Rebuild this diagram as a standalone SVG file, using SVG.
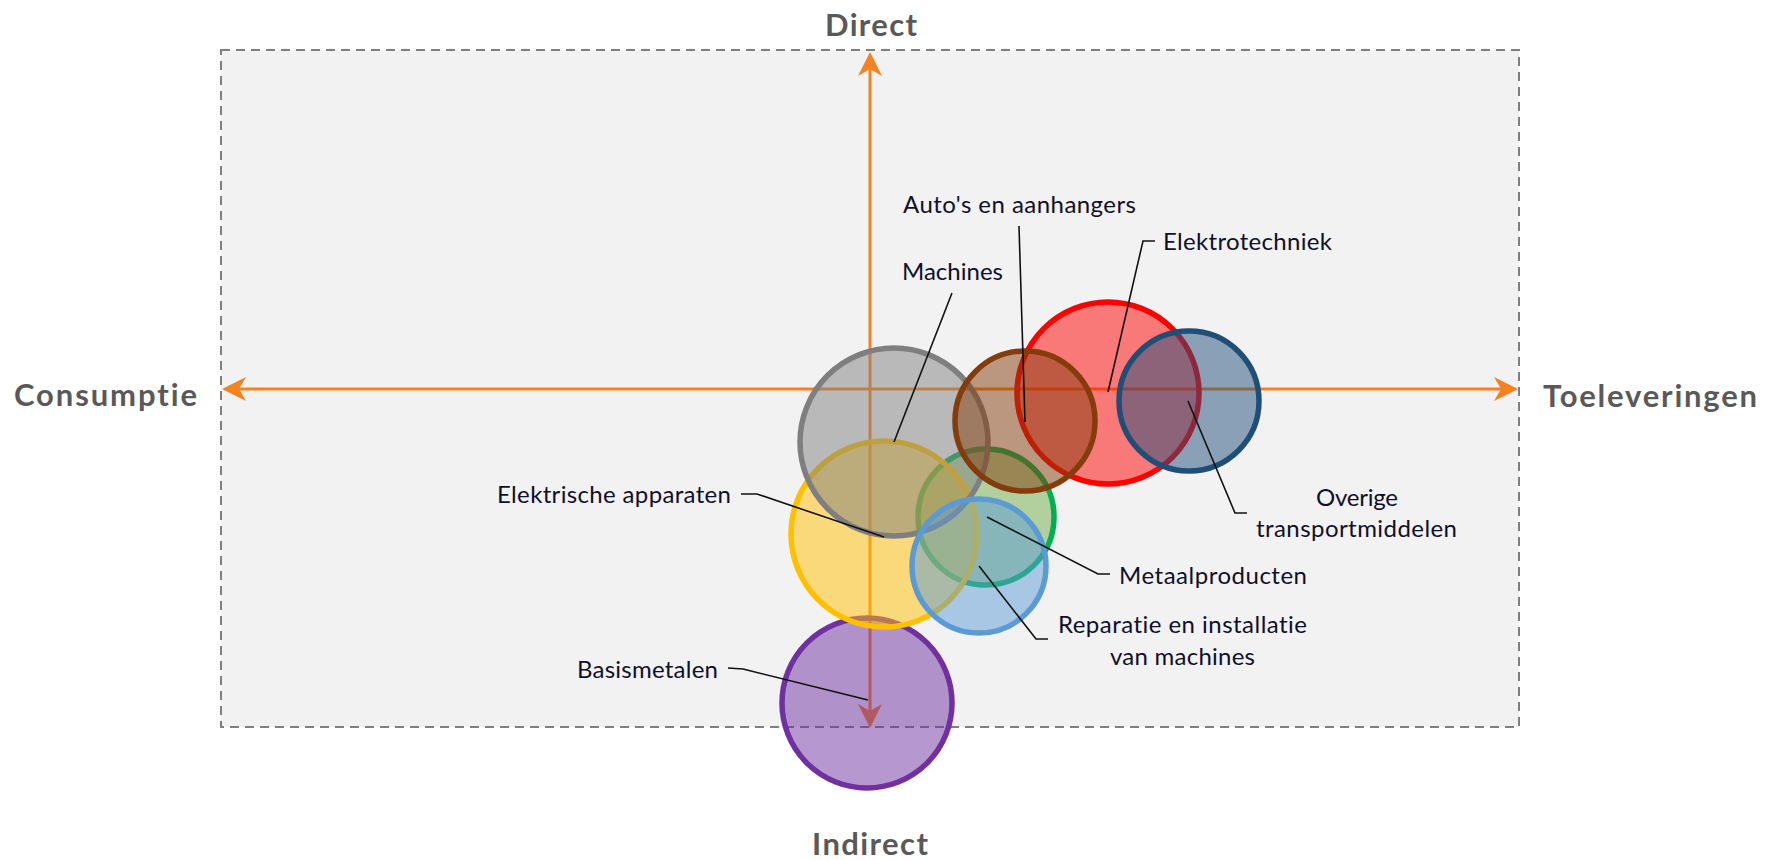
<svg xmlns="http://www.w3.org/2000/svg" width="1778" height="860" viewBox="0 0 1778 860">
<style>
text{font-variant-ligatures:none}
.title{font-family:Lato,"Open Sans","Liberation Sans",sans-serif;font-weight:bold;font-size:31px;fill:#595959}
.lbl{font-family:Lato,"Open Sans","Liberation Sans",sans-serif;font-size:24px;fill:#10102a}
.c{stroke-width:5.5;fill-opacity:0.5}
.lead{fill:none;stroke:#111;stroke-width:1.6}
.axis{stroke:#f58220;stroke-width:3;fill:none}
</style>
<rect width="1778" height="860" fill="#ffffff"/>
<rect id="frame" x="221" y="50" width="1298" height="677" fill="#f2f2f2" stroke="#7f7f7f" stroke-width="2" stroke-dasharray="9,6"/>
<g id="axes">
<line class="axis" x1="232" y1="389" x2="1508" y2="389"/>
<line class="axis" x1="870" y1="62" x2="870" y2="718"/>
<path d="M222,389 L246,377 L239,389 L246,401 Z" fill="#f58220"/>
<path d="M1518,389 L1494,377 L1501,389 L1494,401 Z" fill="#f58220"/>
<path d="M870,52 L858,76 L870,69 L882,76 Z" fill="#f58220"/>
<path d="M870,728 L858,704 L870,711 L882,704 Z" fill="#f58220"/>
</g>
<g id="titles">
<text class="title" x="825" y="36" textLength="92">Direct</text>
<text class="title" x="14" y="406" textLength="183">Consumptie</text>
<text class="title" x="1543" y="407" textLength="214">Toeleveringen</text>
<text class="title" x="812" y="855" textLength="116">Indirect</text>
</g>
<g id="basismetalen">
<circle class="c" cx="867" cy="703" r="85" fill="#7030a0" stroke="#7030a0"/>
<text class="lbl" x="577" y="678" textLength="141">Basismetalen</text>
</g>
<g id="metaalproducten">
<circle class="c" cx="986" cy="517" r="68" fill="#70ad47" stroke="#00b050"/>
<text class="lbl" x="1119" y="584" textLength="188">Metaalproducten</text>
</g>
<g id="elektrische-apparaten">
<circle class="c" cx="884" cy="534" r="93" fill="#ffc000" stroke="#ffc000"/>
<text class="lbl" x="497" y="503" textLength="234">Elektrische apparaten</text>
</g>
<g id="machines">
<circle class="c" cx="894" cy="442" r="94" fill="#7f7f7f" stroke="#7f7f7f"/>
<text class="lbl" x="902" y="280" textLength="101">Machines</text>
</g>
<g id="reparatie">
<circle class="c" cx="979" cy="566" r="67" fill="#5b9bd5" stroke="#5b9bd5"/>
<text class="lbl" x="1058" y="633" textLength="249">Reparatie en installatie</text>
<text class="lbl" x="1110" y="665" textLength="145">van machines</text>
</g>
<g id="elektrotechniek">
<circle class="c" cx="1108" cy="393" r="91" fill="#ff0000" stroke="#ff0000"/>
<text class="lbl" x="1163" y="250" textLength="169">Elektrotechniek</text>
</g>
<g id="autos">
<circle class="c" cx="1025" cy="421" r="70" fill="#843c0c" stroke="#843c0c"/>
<text class="lbl" x="903" y="213" textLength="233">Auto's en aanhangers</text>
</g>
<g id="overige">
<circle class="c" cx="1189" cy="401" r="70" fill="#1f4e79" stroke="#1f4e79"/>
<text class="lbl" x="1316" y="506" textLength="82">Overige</text>
<text class="lbl" x="1256" y="537" textLength="201">transportmiddelen</text>
</g>
<g id="connectors">
<polyline class="lead" points="728,668 743,669 868,700"/>
<polyline class="lead" points="741,494 757,494 884,537"/>
<polyline class="lead" points="952,293 894,442"/>
<polyline class="lead" points="1019,226 1025,422"/>
<polyline class="lead" points="1155,241 1143,241 1108,392"/>
<polyline class="lead" points="1247,513 1235,513 1188,401"/>
<polyline class="lead" points="1110,574 1098,574 987,517"/>
<polyline class="lead" points="1048,639 1036,639 979,566"/>
</g>
</svg>
